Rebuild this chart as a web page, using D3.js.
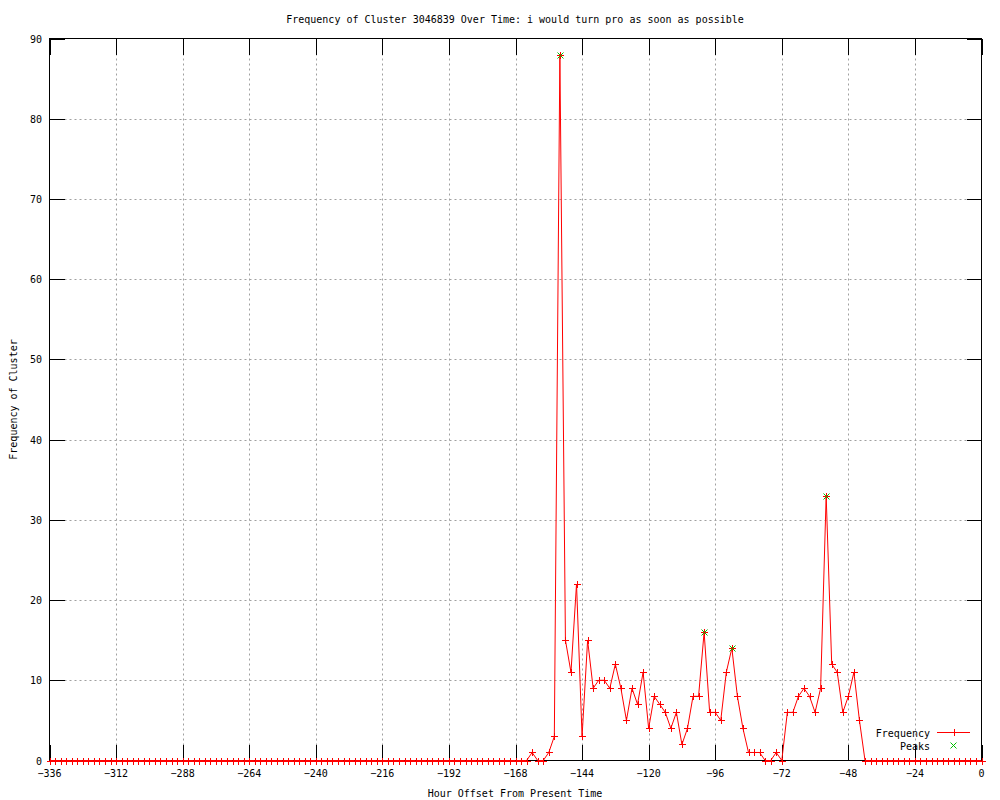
<!DOCTYPE html>
<html>
<head>
<meta charset="utf-8">
<script src="https://cdn.jsdelivr.net/npm/d3@7"></script>
<style>
  body { margin: 0; background: #fff; }
  text { font-family: 'DejaVu Sans Mono', monospace; font-size: 10px; fill: #000; }
</style>
</head>
<body>
<div id="chart"></div>
<script>
// hours before now, one sample every 2 hours
const hours = d3.range(-336, 1, 2)

// frequency at each hour
const counts = [
  0, 0, 0, 0, 0, 0, 0, 0, 0, 0, 0, 0,       // -336 .. -314
  0, 0, 0, 0, 0, 0, 0, 0, 0, 0, 0, 0,       // -312 .. -290
  0, 0, 0, 0, 0, 0, 0, 0, 0, 0, 0, 0,       // -288 .. -266
  0, 0, 0, 0, 0, 0, 0, 0, 0, 0, 0, 0,       // -264 .. -242
  0, 0, 0, 0, 0, 0, 0, 0, 0, 0, 0, 0,       // -240 .. -218
  0, 0, 0, 0, 0, 0, 0, 0, 0, 0, 0, 0,       // -216 .. -194
  0, 0, 0, 0, 0, 0, 0, 0, 0, 0, 0, 0,       // -192 .. -170
  0, 0, 0, 1, 0, 0, 1, 3, 88, 15, 11, 22,   // -168 .. -146
  3, 15, 9, 10, 10, 9, 12, 9, 5, 9, 7, 11,  // -144 .. -122
  4, 8, 7, 6, 4, 6, 2, 4, 8, 8, 16, 6,      // -120 .. -98
  6, 5, 11, 14, 8, 4, 1, 1, 1, 0, 0, 1,     // -96 .. -74
  0, 6, 6, 8, 9, 8, 6, 9, 33, 12, 11, 6,    // -72 .. -50
  8, 11, 5, 0, 0, 0, 0, 0, 0, 0, 0, 0,      // -48 .. -26
  0, 0, 0, 0, 0, 0, 0, 0, 0, 0, 0, 0,       // -24 .. -2
  0                                         // 0
]

const peakHours = [-152, -100, -90, -56]
const peakCounts = [88, 16, 14, 33]

const xTicks = d3.range(-336, 1, 24)
const yTicks = d3.range(0, 91, 10)

const titleText = 'Frequency of Cluster 3046839 Over Time: i would turn pro as soon as possible'

const W = 1000
const H = 800
const margin = { top: 38.5, right: 18.5, bottom: 39.5, left: 49.5 }
const x0 = margin.left
const x1 = W - margin.right
const y0 = H - margin.bottom
const y1 = margin.top

const svg = d3
  .select('#chart')
  .append('svg')
  .attr('width', W)
  .attr('height', H)

const x = d3.scaleLinear().domain([-336, 0]).range([x0, x1])
const y = d3.scaleLinear().domain([0, 90]).range([y0, y1])

// grid
svg.append('g')
  .selectAll('line')
  .data(xTicks.filter(d => d > -336 && d < 0))
  .enter()
  .append('line')
  .attr('x1', d => Math.round(x(d)) + 0.5)
  .attr('x2', d => Math.round(x(d)) + 0.5)
  .attr('y1', y1)
  .attr('y2', y0)
  .attr('stroke', '#a0a0a0')
  .attr('stroke-dasharray', '2,3')

svg.append('g')
  .selectAll('line')
  .data(yTicks.filter(d => d > 0 && d < 90))
  .enter()
  .append('line')
  .attr('x1', x0)
  .attr('x2', x1)
  .attr('y1', d => Math.round(y(d)) + 0.5)
  .attr('y2', d => Math.round(y(d)) + 0.5)
  .attr('stroke', '#a0a0a0')
  .attr('stroke-dasharray', '2,3')

// ticks, mirrored on top and right
const ticks = svg.append('g').attr('stroke', '#000').attr('shape-rendering', 'crispEdges')
xTicks.forEach(d => {
  const px = Math.round(x(d)) + 0.5
  ticks.append('line').attr('x1', px).attr('x2', px).attr('y1', y0).attr('y2', y0 - 16)
  ticks.append('line').attr('x1', px).attr('x2', px).attr('y1', y1).attr('y2', y1 + 16)
})
yTicks.forEach(d => {
  const py = Math.round(y(d)) + 0.5
  ticks.append('line').attr('x1', x0).attr('x2', x0 + 15).attr('y1', py).attr('y2', py)
  ticks.append('line').attr('x1', x1).attr('x2', x1 - 15).attr('y1', py).attr('y2', py)
})

// border
svg.append('rect')
  .attr('x', x0)
  .attr('y', y1)
  .attr('width', x1 - x0)
  .attr('height', y0 - y1)
  .attr('fill', 'none')
  .attr('stroke', '#000')
  .attr('shape-rendering', 'crispEdges')

// tick labels
svg.append('g')
  .selectAll('text')
  .data(xTicks)
  .enter()
  .append('text')
  .attr('x', d => x(d))
  .attr('y', 777)
  .attr('text-anchor', 'middle')
  .text(d => d === 0 ? '0' : '\u2212' + Math.abs(d))

svg.append('g')
  .selectAll('text')
  .data(yTicks)
  .enter()
  .append('text')
  .attr('x', 42)
  .attr('y', d => y(d) + 4)
  .attr('text-anchor', 'end')
  .text(d => d)

// titles
svg.append('text')
  .attr('x', 515)
  .attr('y', 23)
  .attr('text-anchor', 'middle')
  .text(titleText)

svg.append('text')
  .attr('x', 515)
  .attr('y', 797)
  .attr('text-anchor', 'middle')
  .text('Hour Offset From Present Time')

svg.append('text')
  .attr('transform', 'translate(17,399.5) rotate(-90)')
  .attr('text-anchor', 'middle')
  .text('Frequency of Cluster')

// frequency line with + markers
const line = d3.line()
  .x((d, i) => x(hours[i]))
  .y(d => y(d))

svg.append('path')
  .datum(counts)
  .attr('d', line)
  .attr('fill', 'none')
  .attr('stroke', '#ff0000')
  .attr('stroke-width', 1)

const plus = 'M-3.5,0H3.5M0,-3.5V3.5'
const cross = 'M-3,-3L3,3M-3,3L3,-3'

svg.append('g')
  .selectAll('path')
  .data(counts)
  .enter()
  .append('path')
  .attr('transform', (d, i) => `translate(${Math.round(x(hours[i])) + 0.5},${Math.round(y(d)) + 0.5})`)
  .attr('d', plus)
  .attr('stroke', '#ff0000')
  .attr('shape-rendering', 'crispEdges')

// peaks
svg.append('g')
  .selectAll('path')
  .data(peakCounts)
  .enter()
  .append('path')
  .attr('transform', (d, i) => `translate(${Math.round(x(peakHours[i])) + 0.5},${Math.round(y(d)) + 0.5})`)
  .attr('d', cross)
  .attr('stroke', '#00c000')

// legend
const legend = svg.append('g')
legend.append('text').attr('x', 930).attr('y', 737).attr('text-anchor', 'end').text('Frequency')
legend.append('line')
  .attr('x1', 937).attr('x2', 970).attr('y1', 732.5).attr('y2', 732.5)
  .attr('stroke', '#ff0000')
legend.append('path')
  .attr('transform', 'translate(954.5,732.5)')
  .attr('d', plus)
  .attr('stroke', '#ff0000')
legend.append('text').attr('x', 930).attr('y', 750).attr('text-anchor', 'end').text('Peaks')
legend.append('path')
  .attr('transform', 'translate(953.5,745.5)')
  .attr('d', cross)
  .attr('stroke', '#00c000')
</script>
</body>
</html>
